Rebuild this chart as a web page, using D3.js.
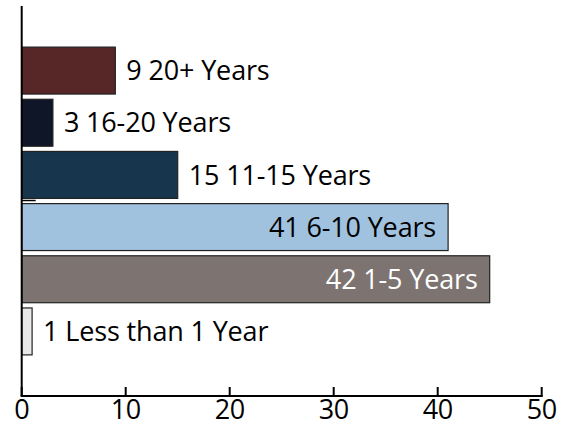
<!DOCTYPE html>
<html><head><meta charset="utf-8">
<script src="https://cdn.jsdelivr.net/npm/d3@7"></script>
<style>body{margin:0;background:#fff}svg{display:block}text{font-family:"Open Sans",sans-serif}</style>
</head><body>
<svg id="c" width="572" height="424"></svg>
<script>
const categories = ["20+ Years","16-20 Years","11-15 Years","6-10 Years","1-5 Years","Less than 1 Year"];
const barValues = [9, 3, 15, 41, 45, 1];
const labelNumbers = [9, 3, 15, 41, 42, 1];
const colors = ["#572626","#0e1627","#17354c","#a0c2de","#7d7472","#e8e8e8"];
const insideLabel = [false,false,false,true,true,false];
const labelColors = ["#000","#000","#000","#000","#fff","#000"];
const xTicks = [0,10,20,30,40,50];

const svg = d3.select("#c");
const x = d3.scaleLinear().domain([0,50]).range([21.7,541.7]);
const y = d3.scaleBand().domain(categories).range([44.5,357.5]).paddingInner(0.1).paddingOuter(0.05);
const axisY = 396;

svg.selectAll("rect.bar").data(categories).join("rect")
  .attr("class","bar")
  .attr("x", x(0))
  .attr("y", d => y(d))
  .attr("width", (d,i) => x(barValues[i]) - x(0))
  .attr("height", y.bandwidth())
  .attr("fill", (d,i) => colors[i])
  .attr("stroke", "#222").attr("stroke-width", 1.2);

svg.selectAll("text.lbl").data(categories).join("text")
  .attr("class","lbl")
  .attr("x", (d,i) => insideLabel[i] ? x(barValues[i]) - 12 : x(barValues[i]) + 11)
  .attr("y", d => y(d) + y.bandwidth()/2)
  .attr("dy", "0.36em")
  .attr("text-anchor", (d,i) => insideLabel[i] ? "end" : "start")
  .attr("fill", (d,i) => labelColors[i])
  .attr("font-size", 27)
  .attr("letter-spacing", -0.15)
  .text((d,i) => labelNumbers[i] + " " + d);

// small dash artifact
svg.append("line").attr("x1", x(0)).attr("x2", x(0)+14).attr("y1", 200.5).attr("y2", 200.5).attr("stroke","#000").attr("stroke-width",1.5);

// y axis line
svg.append("line").attr("x1", x(0)).attr("x2", x(0)).attr("y1", 6).attr("y2", axisY).attr("stroke","#000").attr("stroke-width",2);

// x axis
const g = svg.append("g").attr("transform", `translate(0,${axisY})`);
g.append("line").attr("x1", x(0)-1).attr("x2", x(50)+1).attr("stroke","#000").attr("stroke-width",2);
g.selectAll("line.tick").data(xTicks).join("line").attr("class","tick")
  .attr("x1", d => x(d)).attr("x2", d => x(d)).attr("y1", -9).attr("y2", 0)
  .attr("stroke","#000").attr("stroke-width",2);
g.selectAll("text.tl").data(xTicks).join("text").attr("class","tl")
  .attr("x", d => x(d)).attr("y", 23)
  .attr("text-anchor","middle").attr("font-size",27).attr("letter-spacing",-0.5).attr("fill","#000")
  .text(d => d);
</script>
</body></html>
